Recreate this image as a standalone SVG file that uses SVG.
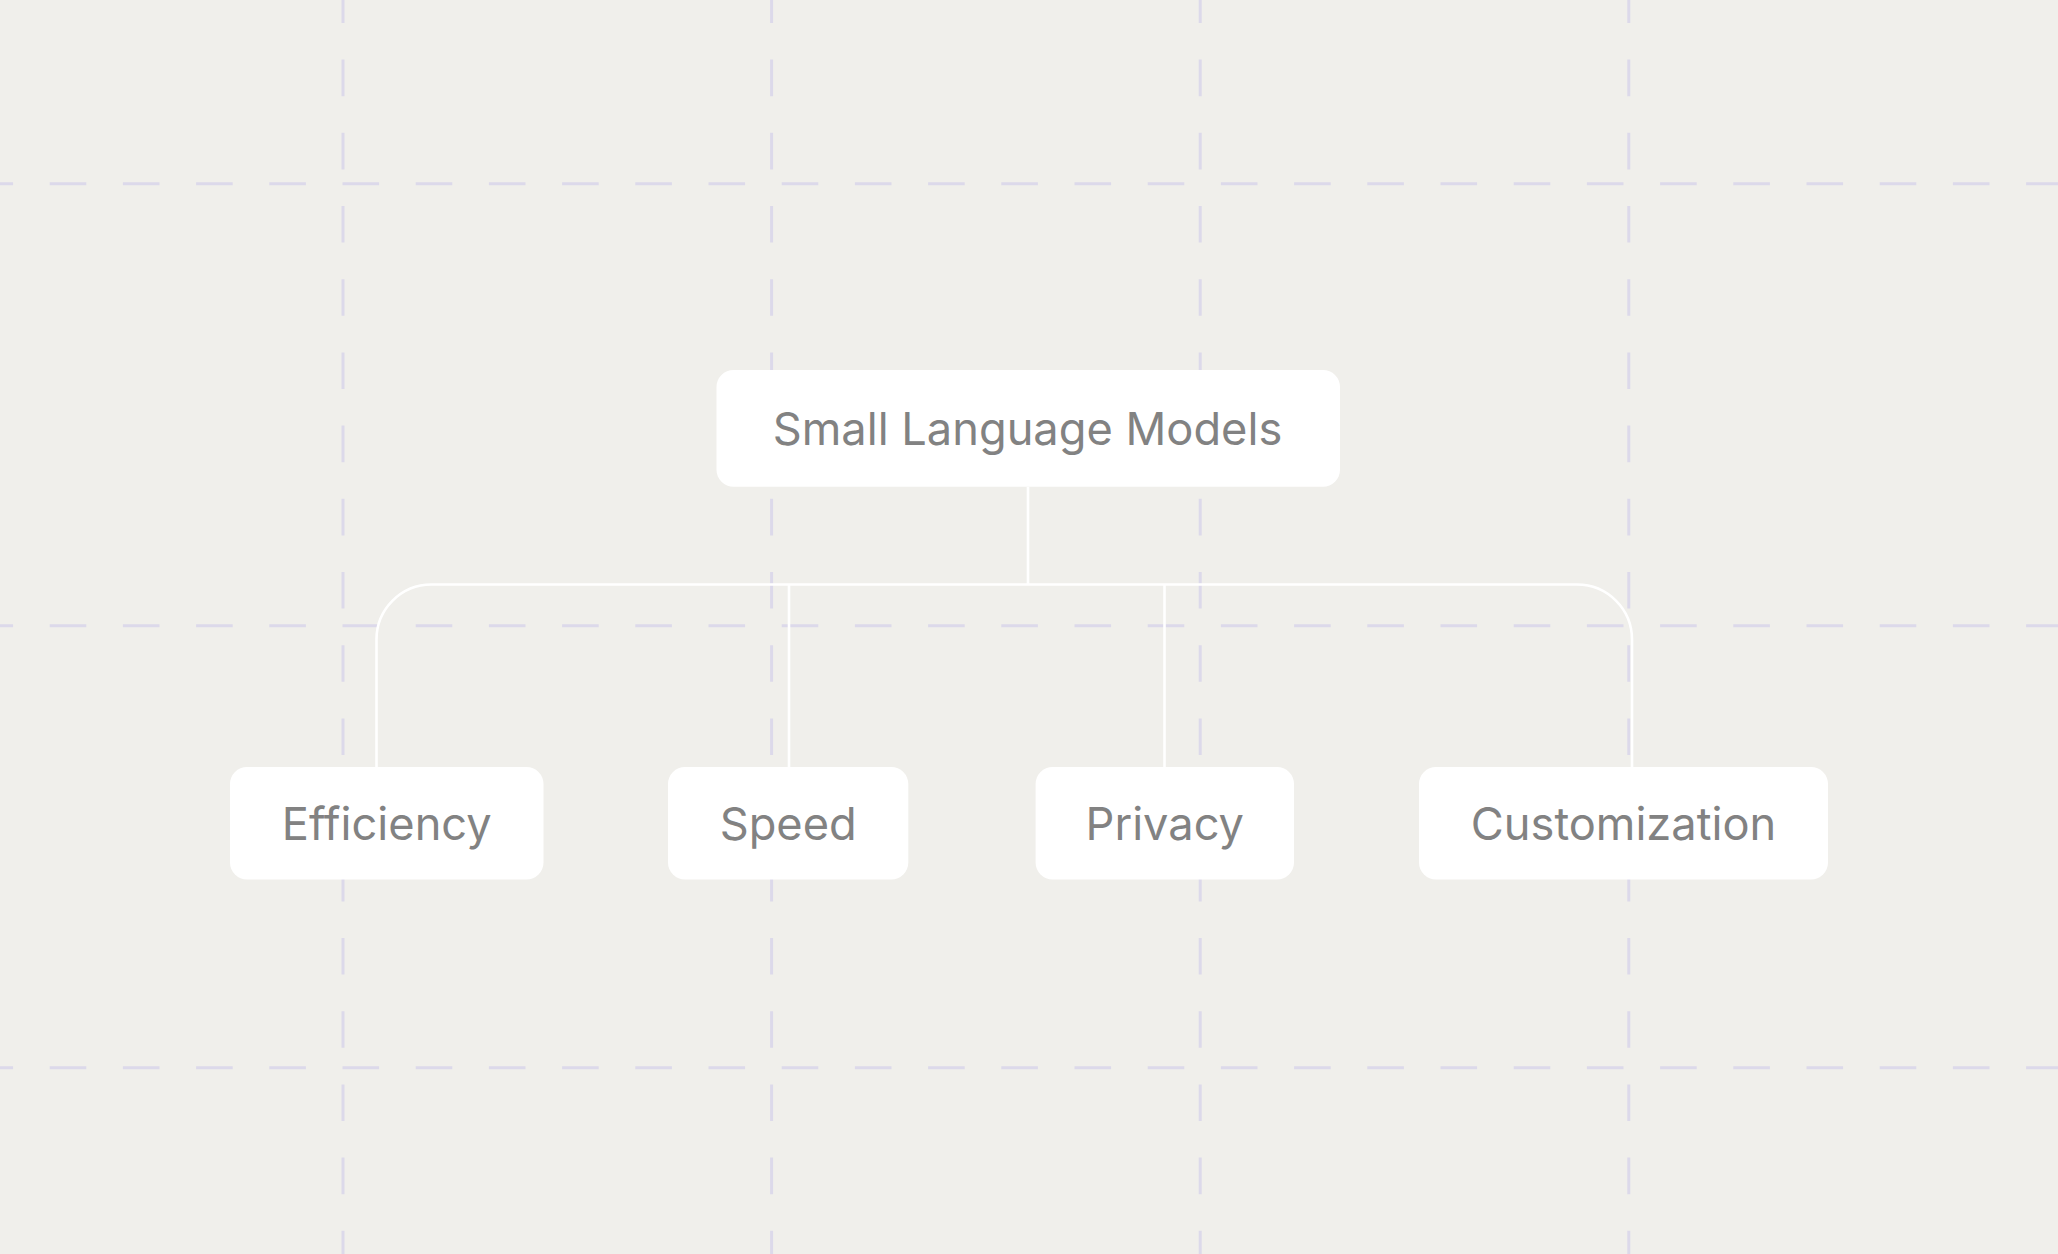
<svg xmlns="http://www.w3.org/2000/svg" width="2058" height="1254" viewBox="0 0 2058 1254">
<style>
.grid{stroke:#dcd9ea;stroke-width:3;fill:none;stroke-dasharray:36.6 36.6}
.gh{stroke-dashoffset:23.5}
.gv{stroke-dashoffset:13.6}
.box{fill:#ffffff}
.lbl{font-family:Inter,"DejaVu Sans",sans-serif;font-size:45.2px;fill:#828282;text-anchor:middle}
.conn{stroke:#ffffff;stroke-width:2.6;fill:none}
</style>
<rect x="0" y="0" width="2058" height="1254" fill="#f0efeb"/>
<g id="grid">
<line class="grid gh" x1="0" y1="183.7" x2="2058" y2="183.7"/>
<line class="grid gh" x1="0" y1="625.7" x2="2058" y2="625.7"/>
<line class="grid gh" x1="0" y1="1067.7" x2="2058" y2="1067.7"/>
<line class="grid gv" x1="343" y1="0" x2="343" y2="1254"/>
<line class="grid gv" x1="771.6" y1="0" x2="771.6" y2="1254"/>
<line class="grid gv" x1="1200.2" y1="0" x2="1200.2" y2="1254"/>
<line class="grid gv" x1="1628.8" y1="0" x2="1628.8" y2="1254"/>
</g>
<g id="connectors">
<path class="conn" d="M1028 487 V584.5"/>
<path class="conn" d="M376.5 767 V639.5 A55 55 0 0 1 431.5 584.5 H1577 A55 55 0 0 1 1632 639.5 V767"/>
<path class="conn" d="M789 584.5 V767"/>
<path class="conn" d="M1164.5 584.5 V767"/>
</g>
<g id="node-root">
<rect class="box" x="716.5" y="370" width="623.5" height="116.7" rx="17"/>
<text class="lbl" x="1027.5" y="445">Small Language Models</text>
</g>
<g id="node-efficiency">
<rect class="box" x="230" y="767" width="313.5" height="112.5" rx="17"/>
<text class="lbl" x="386.7" y="840">Efficiency</text>
</g>
<g id="node-speed">
<rect class="box" x="668" y="767" width="240.3" height="112.5" rx="17"/>
<text class="lbl" x="788.2" y="840">Speed</text>
</g>
<g id="node-privacy">
<rect class="box" x="1035.6" y="767" width="258.4" height="112.5" rx="17"/>
<text class="lbl" x="1164.8" y="840">Privacy</text>
</g>
<g id="node-customization">
<rect class="box" x="1419" y="767" width="409" height="112.5" rx="17"/>
<text class="lbl" x="1623.5" y="840">Customization</text>
</g>
</svg>
